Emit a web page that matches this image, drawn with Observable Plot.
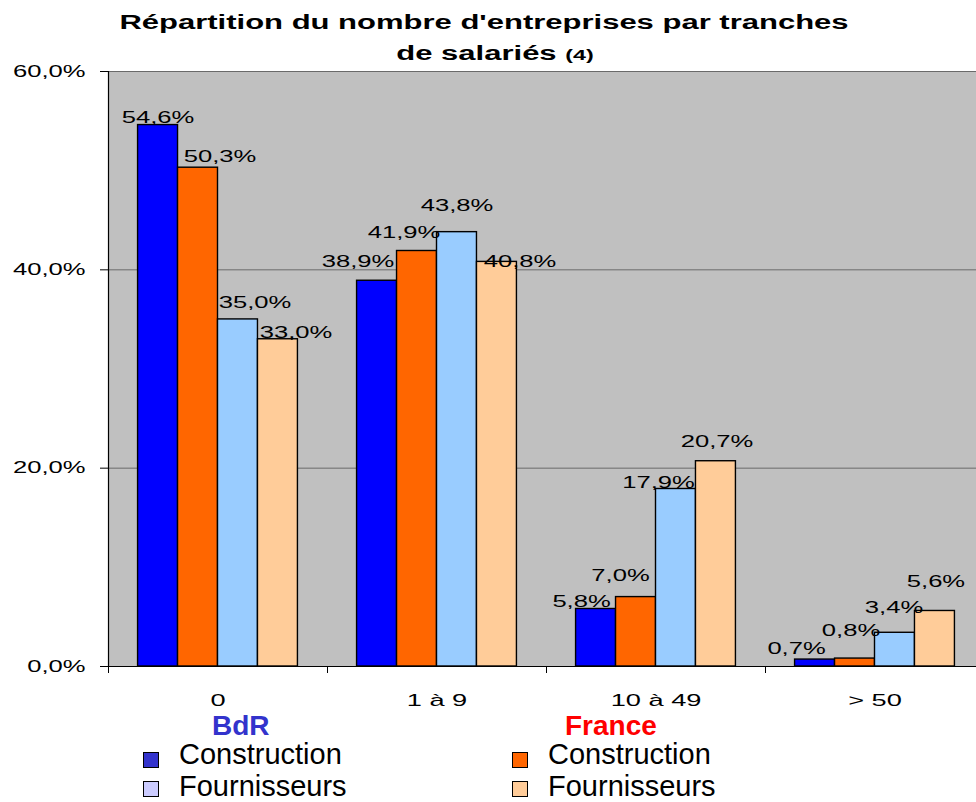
<!DOCTYPE html>
<html>
<head>
<meta charset="utf-8">
<script src="https://cdn.jsdelivr.net/npm/d3@7"></script>
<script src="https://cdn.jsdelivr.net/npm/@observablehq/plot@0.6"></script>
<style>
  html, body { margin: 0; padding: 0; background: #fff; overflow: hidden; }
  #wrap { position: relative; width: 976px; height: 802px; font-family: "Liberation Sans", Arial, sans-serif; color: #000; }
  #chart { position: absolute; left: 0; top: 0; }
  .title { position: absolute; width: 1000px; text-align: center; font-weight: bold; font-size: 20px; line-height: 1; transform-origin: 500px 50%; transform: scaleX(1.55); white-space: nowrap; }
  .title small { font-size: 15px; }
  .grp { position: absolute; font-weight: bold; font-size: 28px; line-height: 1; white-space: nowrap; }
  .item { position: absolute; font-size: 29px; line-height: 0.75; white-space: nowrap; }
  .sw { position: absolute; width: 14px; height: 14px; border: 1.5px solid #000; }
</style>
</head>
<body>
<div id="wrap"><div id="chart"></div></div>
<script>
// ---- data ----
const categories = ["0", "1 à 9", "10 à 49", "> 50"];
const series = ["BdR Construction", "France Construction", "BdR Fournisseurs", "France Fournisseurs"];
const bdrConstruction    = [54.6, 38.9, 5.8, 0.7];
const franceConstruction = [50.3, 41.9, 7.0, 0.8];
const bdrFournisseurs    = [35.0, 43.8, 17.9, 3.4];
const franceFournisseurs = [33.0, 40.8, 20.7, 5.6];
const yTicks = [0, 20, 40, 60];
const titleLine1 = "Répartition du nombre d'entreprises par tranches";
const titleLine2 = "de salariés";
const titleNote = "(4)";
const legendGroups = ["BdR", "France"];
const legendItems = ["Construction", "Fournisseurs"];

// ---- styles / layout ----
const barColors = ["#0000FF", "#FF6600", "#99CCFF", "#FFCC99"];
const legendGroupColors = ["#3333CC", "#FF0000"];
const legendSwatchColors = [["#3333CC", "#CCCCFF"], ["#FF6600", "#FFCC99"]];
// per-label nudges [dx, gap above bar top], by series then category (manual label placement of original)
const labelNudges = [
  [[0, 2], [-19, 14], [-14.5, 2], [-18.5, 6]],
  [[22, 6], [-13, 13], [-15.5, 16], [-4, 23]],
  [[17, 11], [0, 21], [-17.5, 1], [-1, 20]],
  [[18, 1], [23, -5], [1, 14], [1, 24]]
];
const TEXT_STRETCH = 1.6;

const values = [bdrConstruction, franceConstruction, bdrFournisseurs, franceFournisseurs];
const rows = [];
categories.forEach((c, ci) => series.forEach((s, si) => rows.push({cat: c, series: s, value: values[si][ci], ci, si})));
const fmt = v => v.toFixed(1).replace(".", ",") + "%";

const W = 976, H = 712, ML = 108, MR = -8, PAD = 0.74;
const facetW = (W - ML - MR) / categories.length;
const step = facetW / (series.length + 2 * PAD);
const edgeDx = -(0.5 + PAD) * step;

const labelMarks = rows.map(r => Plot.text([r], {
  fx: "cat", x: "series", y: "value", text: d => fmt(d.value),
  lineAnchor: "bottom", fontSize: 16, fill: "black",
  dx: labelNudges[r.si][r.ci][0], dy: -labelNudges[r.si][r.ci][1]
}));

const plot = Plot.plot({
  width: W, height: H,
  marginTop: 71, marginBottom: H - 666, marginLeft: ML, marginRight: MR,
  style: {fontFamily: "'Liberation Sans', Arial, sans-serif", fontSize: "16px", background: "transparent", color: "black"},
  fx: {domain: categories, padding: 0, label: null, round: false},
  x: {domain: series, paddingInner: 0, paddingOuter: PAD, round: false, axis: null},
  y: {domain: [0, 60], label: null},
  color: {domain: series, range: barColors},
  marks: [
    Plot.frame({fill: "#C0C0C0", stroke: "none", facet: "super"}),
    Plot.ruleY(yTicks.filter(v => v > 0), {stroke: "#6a6a6a", strokeWidth: 1}),
    Plot.barY(rows, {fx: "cat", x: "series", y: "value", fill: "series", stroke: "black", strokeWidth: 1.4}),
    ...labelMarks,
    Plot.ruleY([0], {stroke: "black", strokeWidth: 1.2}),
    Plot.frame({anchor: "left", stroke: "black", strokeWidth: 1.2, facet: "super"}),
    Plot.ruleX(categories, {fx: d => d, x: () => series[0], y1: 0, y2: 0, insetBottom: -7, dx: edgeDx, stroke: "black"}),
    Plot.axisY({ticks: yTicks, tickFormat: fmt, tickSize: 8, tickPadding: 15, fontSize: 16, label: null, stroke: "black"}),
    Plot.axisFx({anchor: "bottom", tickSize: 0, tickPadding: 27, fontSize: 17, label: null})
  ]
});
document.getElementById("chart").appendChild(plot);

// horizontal stretch of SVG text (glyphs widened as in the original picture)
plot.querySelectorAll("text").forEach(t => {
  const L = t.getComputedTextLength();
  if (L > 0) {
    t.setAttribute("textLength", (L * TEXT_STRETCH).toFixed(2));
    t.setAttribute("lengthAdjust", "spacingAndGlyphs");
  }
});

// ---- title ----
const wrap = document.getElementById("wrap");
const t1 = document.createElement("div");
t1.className = "title"; t1.style.left = "-16px"; t1.style.top = "12px";
t1.textContent = titleLine1;
wrap.appendChild(t1);
const t2 = document.createElement("div");
t2.className = "title"; t2.style.left = "-5px"; t2.style.top = "43px";
t2.textContent = titleLine2 + " ";
const sm = document.createElement("small"); sm.textContent = titleNote; t2.appendChild(sm);
wrap.appendChild(t2);

// ---- legend ----
const groupLeft = [212, 565], swLeft = [143, 512], txtLeft = [179, 548];
const swTop = [752, 781], txtTop = [744, 775.5];
legendGroups.forEach((g, gi) => {
  const d = document.createElement("div");
  d.className = "grp"; d.textContent = g;
  d.style.left = groupLeft[gi] + "px"; d.style.top = "712px"; d.style.color = legendGroupColors[gi];
  wrap.appendChild(d);
  legendItems.forEach((it, ii) => {
    const s = document.createElement("div");
    s.className = "sw"; s.style.left = swLeft[gi] + "px"; s.style.top = swTop[ii] + "px";
    s.style.background = legendSwatchColors[gi][ii];
    wrap.appendChild(s);
    const tx = document.createElement("div");
    tx.className = "item"; tx.textContent = it;
    tx.style.left = txtLeft[gi] + "px"; tx.style.top = txtTop[ii] + "px";
    wrap.appendChild(tx);
  });
});
</script>
</body>
</html>
